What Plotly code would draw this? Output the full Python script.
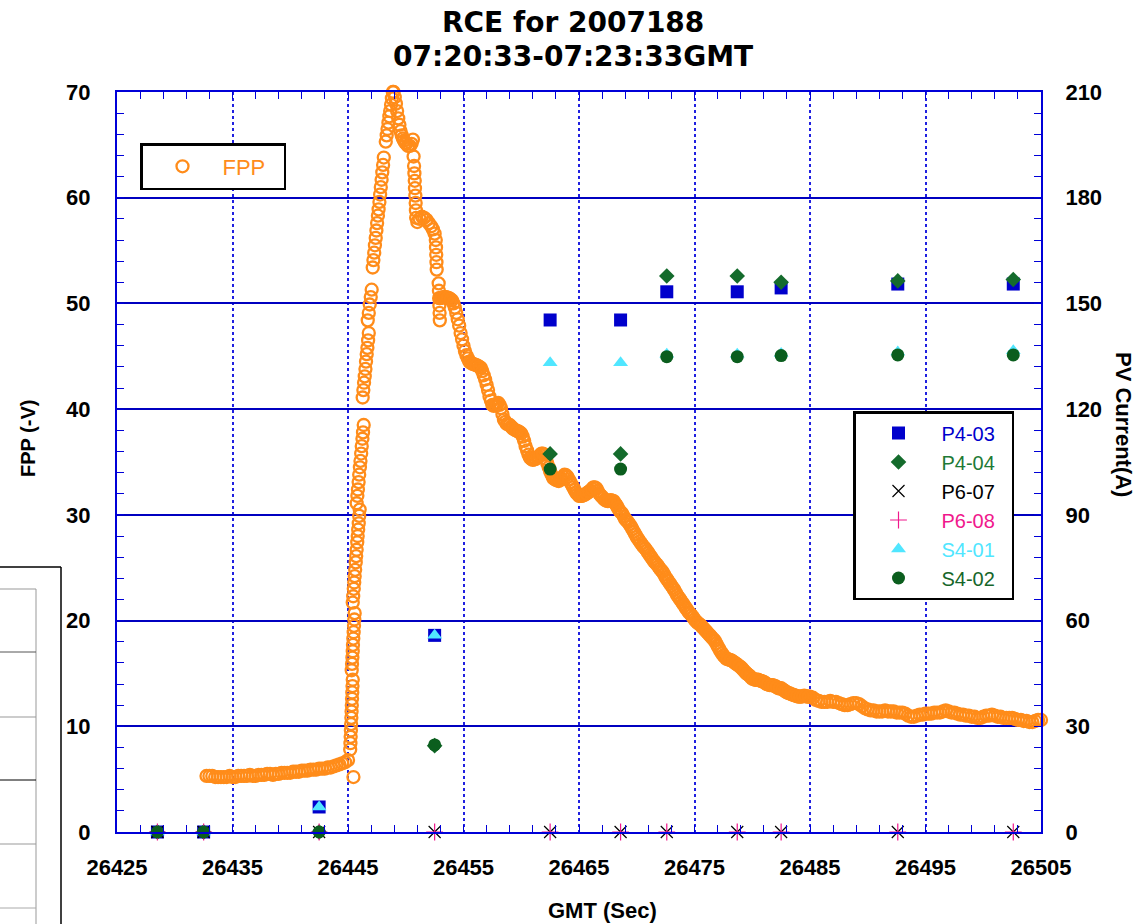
import plotly.graph_objects as go

# ---- FPP probe voltage (-V) ----
baseline_t = [26432.75, 26433.0, 26433.25, 26433.5, 26433.75, 26434.0, 26434.25, 26434.5,
              26434.75, 26435.0, 26435.25, 26435.5, 26435.75, 26436.0, 26436.25, 26436.5,
              26436.75, 26437.0, 26437.25, 26437.5, 26437.75, 26438.0, 26438.25, 26438.5,
              26438.75, 26439.0, 26439.25, 26439.5, 26439.75, 26440.0, 26440.25, 26440.5,
              26440.75, 26441.0, 26441.25, 26441.5, 26441.75, 26442.0, 26442.25, 26442.5,
              26442.75, 26443.0, 26443.25, 26443.5, 26443.75, 26444.0, 26444.25, 26444.5,
              26444.75, 26445.0, 26445.47]
baseline_v = [5.3, 5.3, 5.3, 5.2, 5.2, 5.2, 5.2, 5.2,
              5.3, 5.2, 5.2, 5.3, 5.3, 5.3, 5.3, 5.4,
              5.3, 5.3, 5.4, 5.4, 5.4, 5.5, 5.5, 5.4,
              5.5, 5.5, 5.6, 5.6, 5.6, 5.6, 5.7, 5.7,
              5.7, 5.8, 5.8, 5.8, 5.9, 5.9, 5.9, 6.0,
              6.0, 6.0, 6.1, 6.1, 6.2, 6.3, 6.4, 6.5,
              6.6, 6.8, 5.2]

rise_t = [26445.19, 26445.21, 26445.23, 26445.25, 26445.27, 26445.29, 26445.31, 26445.33,
          26445.35, 26445.37, 26445.39, 26445.41,
          26445.32, 26445.35, 26445.38, 26445.41, 26445.43, 26445.46, 26445.49, 26445.52,
          26445.55, 26445.58,
          26445.41, 26445.45, 26445.50, 26445.54, 26445.58, 26445.62, 26445.67, 26445.71,
          26445.75, 26445.80, 26445.84, 26445.88, 26445.93, 26445.97, 26446.01,
          26445.75, 26445.81, 26445.86, 26445.92, 26445.97, 26446.03, 26446.08, 26446.14,
          26446.19, 26446.25, 26446.30, 26446.36,
          26446.27, 26446.33, 26446.39, 26446.45, 26446.51, 26446.56, 26446.62, 26446.68,
          26446.74, 26446.80,
          26446.71, 26446.80, 26446.88, 26446.97, 26447.05,
          26447.14, 26447.20, 26447.27, 26447.33, 26447.40, 26447.46, 26447.52, 26447.59,
          26447.65, 26447.72, 26447.78, 26447.84, 26447.91, 26447.97, 26448.04, 26448.10,
          26448.27, 26448.35, 26448.42, 26448.50, 26448.58, 26448.65, 26448.73, 26448.80,
          26448.88]
rise_v = [7.8, 8.4, 9.0, 9.6, 10.2, 10.8, 11.4, 12.0,
          12.6, 13.2, 13.8, 14.4,
          15.3, 15.9, 16.5, 17.1, 17.7, 18.3, 18.9, 19.5,
          20.1, 20.7,
          21.7, 22.3, 23.0, 23.6, 24.2, 24.8, 25.5, 26.1,
          26.7, 27.4, 28.0, 28.6, 29.2, 29.9, 30.5,
          31.1, 31.8, 32.4, 33.1, 33.8, 34.5, 35.1, 35.8,
          36.5, 37.2, 37.8, 38.5,
          41.1, 41.8, 42.5, 43.1, 43.8, 44.5, 45.2, 45.8,
          46.5, 47.2,
          48.4, 49.1, 49.9, 50.6, 51.3,
          53.4, 54.1, 54.8, 55.5, 56.2, 56.9, 57.6, 58.3,
          58.9, 59.6, 60.3, 61.0, 61.7, 62.4, 63.1, 63.8,
          65.3, 65.9, 66.5, 67.1, 67.7, 68.2, 68.8, 69.4,
          70.0]

fall_t = [26448.95, 26449.05, 26449.15, 26449.25, 26449.35, 26449.45, 26449.55, 26449.65,
          26449.75, 26449.85, 26449.95, 26450.05, 26450.2, 26450.35, 26450.5, 26450.62,
          26450.68, 26450.72, 26450.75, 26450.78, 26450.80, 26450.83, 26450.86, 26450.88,
          26450.90,
          26451.0, 26451.2, 26451.4, 26451.6, 26451.8, 26452.0, 26452.2, 26452.35,
          26452.5,
          26452.6, 26452.62, 26452.64, 26452.66, 26452.68, 26452.85, 26452.87, 26452.89,
          26452.91, 26452.93, 26452.95]
fall_v = [70.0, 69.5, 68.9, 68.2, 67.5, 66.9, 66.3, 65.9,
          65.6, 65.4, 65.2, 65.1, 64.9, 64.9, 65.1, 65.5,
          63.9, 63.0, 62.3, 61.6, 60.9, 60.2, 59.5, 58.8,
          58.1,
          57.7, 58.0, 58.2, 58.1, 57.9, 57.6, 57.3, 57.0,
          56.6,
          56.0, 55.3, 54.6, 53.9, 53.2, 51.9, 51.2, 50.5,
          49.8, 49.1, 48.4]

decay_t = [26453.0, 26453.25, 26453.5, 26453.75, 26454.0, 26454.25, 26454.5, 26454.75,
           26455.0, 26455.25, 26455.5, 26455.75, 26456.0, 26456.25, 26456.5, 26456.75,
           26457.0, 26457.25, 26457.5, 26457.75, 26458.0, 26458.25, 26458.5, 26458.75,
           26459.0, 26459.25, 26459.5, 26459.75, 26460.0, 26460.25, 26460.5, 26460.75,
           26461.0, 26461.25, 26461.5, 26461.75, 26462.0, 26462.25, 26462.5, 26462.75,
           26463.0, 26463.25, 26463.5, 26463.75, 26464.0, 26464.25, 26464.5, 26464.75,
           26465.0, 26465.25, 26465.5, 26465.75, 26466.0, 26466.25, 26466.5, 26466.75,
           26467.0, 26467.25, 26467.5, 26467.75, 26468.0, 26468.25, 26468.5, 26468.75,
           26469.0, 26469.25, 26469.5, 26469.75, 26470.0, 26470.25, 26470.5, 26470.75,
           26471.0, 26471.25, 26471.5, 26471.75, 26472.0, 26472.25, 26472.5, 26472.75,
           26473.0, 26473.25, 26473.5, 26473.75, 26474.0, 26474.25, 26474.5, 26474.75,
           26475.0, 26475.25, 26475.5, 26475.75, 26476.0, 26476.25, 26476.5, 26476.75,
           26477.0, 26477.25, 26477.5, 26477.75, 26478.0, 26478.25, 26478.5, 26478.75,
           26479.0, 26479.25, 26479.5, 26479.75, 26480.0, 26480.25, 26480.5, 26480.75,
           26481.0, 26481.25, 26481.5, 26481.75, 26482.0, 26482.25, 26482.5, 26482.75,
           26483.0, 26483.25, 26483.5, 26483.75, 26484.0, 26484.25, 26484.5, 26484.75,
           26485.0, 26485.25, 26485.5, 26485.75, 26486.0, 26486.25, 26486.5, 26486.75,
           26487.0, 26487.25, 26487.5, 26487.75, 26488.0, 26488.25, 26488.5, 26488.75,
           26489.0, 26489.25, 26489.5, 26489.75, 26490.0, 26490.25, 26490.5, 26490.75,
           26491.0, 26491.25, 26491.5, 26491.75, 26492.0, 26492.25, 26492.5, 26492.75,
           26493.0, 26493.25, 26493.5, 26493.75, 26494.0, 26494.25, 26494.5, 26494.75,
           26495.0, 26495.25, 26495.5, 26495.75, 26496.0, 26496.25, 26496.5, 26496.75,
           26497.0, 26497.25, 26497.5, 26497.75, 26498.0, 26498.25, 26498.5, 26498.75,
           26499.0, 26499.25, 26499.5, 26499.75, 26500.0, 26500.25, 26500.5, 26500.75,
           26501.0, 26501.25, 26501.5, 26501.75, 26502.0, 26502.25, 26502.5, 26502.75,
           26503.0, 26503.25, 26503.5, 26503.75, 26504.0, 26504.25, 26504.5, 26504.75,
           26505.0]
decay_v = [50.5, 50.6, 50.6, 50.5, 50.3, 49.6, 48.5, 47.2,
           46.0, 45.1, 44.5, 44.3, 44.2, 44.1, 43.9, 43.2,
           42.3, 41.2, 40.4, 40.4, 40.6, 40.1, 39.0, 38.6,
           38.5, 38.2, 38.0, 37.9, 37.7, 37.0, 36.1, 35.4,
           35.2, 35.3, 35.5, 35.8, 35.7, 34.9, 34.1, 33.5,
           33.3, 33.2, 33.4, 33.8, 33.6, 33.1, 32.6, 32.1,
           31.8, 31.8, 31.9, 32.1, 32.3, 32.6, 32.5, 32.0,
           31.7, 31.4, 31.3, 31.4, 31.3, 30.9, 30.4, 30.1,
           29.6, 29.3, 28.9, 28.4, 27.9, 27.5, 27.1, 26.8,
           26.4, 26.0, 25.6, 25.3, 24.9, 24.6, 24.1, 23.7,
           23.3, 22.9, 22.4, 22.0, 21.6, 21.2, 20.8, 20.5,
           20.1, 19.8, 19.6, 19.3, 19.0, 18.7, 18.4, 18.1,
           17.6, 17.1, 16.7, 16.4, 16.3, 16.2, 16.0, 15.8,
           15.6, 15.3, 15.0, 14.8, 14.5, 14.4, 14.4, 14.3,
           14.2, 14.0, 13.9, 13.9, 13.8, 13.6, 13.6, 13.4,
           13.2, 13.1, 13.0, 12.9, 12.8, 12.8, 12.9, 12.8,
           12.8, 12.7, 12.5, 12.4, 12.3, 12.3, 12.3, 12.4,
           12.3, 12.3, 12.2, 12.1, 12.0, 12.0, 12.1, 12.2,
           12.2, 12.1, 11.9, 11.7, 11.6, 11.5, 11.5, 11.4,
           11.4, 11.4, 11.5, 11.4, 11.4, 11.4, 11.3, 11.3,
           11.3, 11.2, 11.0, 10.9, 10.9, 11.0, 11.1, 11.1,
           11.2, 11.2, 11.2, 11.3, 11.3, 11.3, 11.4, 11.5,
           11.4, 11.3, 11.3, 11.2, 11.1, 11.1, 11.0, 11.0,
           10.9, 10.9, 10.8, 10.8, 10.9, 11.0, 11.0, 11.1,
           11.0, 10.9, 10.9, 10.8, 10.8, 10.8, 10.8, 10.7,
           10.6, 10.6, 10.5, 10.5, 10.4, 10.4, 10.5, 10.6,
           10.6]

# the steep, wiggly stretch is sampled more densely (readings between the above)
dense_t = [26453.125, 26453.375, 26453.625, 26453.875, 26454.125, 26454.375, 26454.625, 26454.875,
           26455.125, 26455.375, 26455.625, 26455.875, 26456.125, 26456.375, 26456.625, 26456.875,
           26457.125, 26457.375, 26457.625, 26457.875, 26458.125, 26458.375, 26458.625, 26458.875,
           26459.125, 26459.375, 26459.625, 26459.875, 26460.125, 26460.375, 26460.625, 26460.875,
           26461.125, 26461.375, 26461.625, 26461.875, 26462.125, 26462.375, 26462.625, 26462.875,
           26463.125, 26463.375, 26463.625, 26463.875, 26464.125, 26464.375, 26464.625, 26464.875,
           26465.125, 26465.375, 26465.625, 26465.875, 26466.125, 26466.375, 26466.625, 26466.875,
           26467.125, 26467.375, 26467.625, 26467.875, 26468.125, 26468.375, 26468.625, 26468.875,
           26469.125, 26469.375, 26469.625, 26469.875, 26470.125, 26470.375, 26470.625, 26470.875,
           26471.125, 26471.375, 26471.625, 26471.875, 26472.125, 26472.375, 26472.625, 26472.875,
           26473.125, 26473.375, 26473.625, 26473.875, 26474.125, 26474.375, 26474.625, 26474.875,
           26475.125, 26475.375, 26475.625, 26475.875, 26476.125, 26476.375, 26476.625, 26476.875,
           26477.125, 26477.375, 26477.625, 26477.875, 26478.125, 26478.375, 26478.625, 26478.875,
           26479.125, 26479.375, 26479.625, 26479.875, 26480.125, 26480.375, 26480.625, 26480.875,
           26481.125, 26481.375, 26481.625, 26481.875, 26482.125, 26482.375, 26482.625, 26482.875,
           26483.125, 26483.375, 26483.625, 26483.875, 26484.125, 26484.375, 26484.625, 26484.875]
dense_v = [50.55, 50.6, 50.55, 50.4, 50.0, 49.1, 47.9, 46.6,
           45.5, 44.8, 44.4, 44.25, 44.15, 44.0, 43.6, 42.8,
           41.8, 40.8, 40.3, 40.5, 40.4, 39.5, 38.8, 38.55,
           38.35, 38.1, 37.95, 37.8, 37.4, 36.5, 35.7, 35.3,
           35.25, 35.4, 35.65, 35.8, 35.3, 34.5, 33.8, 33.4,
           33.25, 33.3, 33.6, 33.75, 33.35, 32.85, 32.35, 31.95,
           31.8, 31.85, 32.0, 32.2, 32.45, 32.6, 32.25, 31.85,
           31.55, 31.35, 31.35, 31.35, 31.1, 30.65, 30.25, 29.85,
           29.45, 29.1, 28.65, 28.15, 27.7, 27.3, 26.95, 26.6,
           26.2, 25.8, 25.45, 25.1, 24.75, 24.35, 23.9, 23.5,
           23.1, 22.65, 22.2, 21.8, 21.4, 21.0, 20.65, 20.3,
           19.95, 19.7, 19.45, 19.15, 18.85, 18.55, 18.25, 17.85,
           17.35, 16.9, 16.55, 16.35, 16.25, 16.1, 15.9, 15.7,
           15.45, 15.15, 14.9, 14.65, 14.45, 14.4, 14.35, 14.25,
           14.1, 13.95, 13.9, 13.85, 13.7, 13.6, 13.5, 13.3,
           13.15, 13.05, 12.95, 12.85, 12.8, 12.85, 12.85, 12.8]

fpp_time = baseline_t + rise_t + fall_t + decay_t + dense_t
fpp_volts = baseline_v + rise_v + fall_v + decay_v + dense_v

# ---- PV currents (A), right axis ----
current_time = [26428.5, 26432.5, 26442.5, 26452.5, 26462.5, 26468.6,
                26472.6, 26478.7, 26482.5, 26492.6, 26502.6]
p4_03 = [0, 0, 7.1, 55.8, 145.3, 145.3, 153.3, 153.3, 154.4, 155.5, 155.5]
p4_04 = [0, 0, 0, 24.5, 107.3, 107.3, 157.8, 157.8, 156.0, 156.4, 156.8]
p6_07 = [0, 0, 0, 0, 0, 0, 0, 0, 0, 0, 0]
p6_08 = [0, 0, 0, 0, 0, 0, 0, 0, 0, 0, 0]
s4_01 = [0, 0, 7.1, 55.8, 133.2, 133.2, 135.6, 135.6, 135.8, 136.2, 136.6]
s4_02 = [0, 0, 0, 24.7, 103.0, 103.0, 134.9, 134.9, 135.2, 135.4, 135.4]

x_ticks = [26425, 26435, 26445, 26455, 26465, 26475, 26485, 26495, 26505]

BLUE = "#0000D8"
ORANGE = "#FF8C1A"
NBSP = "\u00a0"


def px_x(px):
    # pixel column -> paper x (plot area spans 117..1041)
    return (px - 117) / 924


def px_y(py):
    # pixel row -> paper y (plot area spans 832..92)
    return (832 - py) / 740


def colored(text, color, pad=0):
    # trailing spaces widen the legend box to the original's size
    return f'<span style="color:{color}">{text}{NBSP * pad}</span>'


fig = go.Figure()

fig.add_trace(go.Scatter(
    x=fpp_time, y=fpp_volts, mode='markers', name=colored('FPP', ORANGE, pad=2),
    marker=dict(symbol='circle-open', size=12, color=ORANGE, line=dict(width=2.3)),
    cliponaxis=False, legend='legend'))

current_series = [
    ('P4-03', p4_03, dict(symbol='square', size=13, color='#0000CC'), '#0000CC'),
    ('P4-04', p4_04, dict(symbol='diamond', size=12, color='#146B2C'), '#1E7A36'),
    ('P6-07', p6_07, dict(symbol='x-thin', size=12, color='black',
                          line=dict(width=1.2, color='black')), 'black'),
    ('P6-08', p6_08, dict(symbol='cross-thin', size=12, color='#F0188C',
                          line=dict(width=1.2, color='#F0188C')), '#F0188C'),
    ('S4-01', s4_01, dict(symbol='triangle-up', size=13, color='#50E6FF'), '#50E6FF'),
    ('S4-02', s4_02, dict(symbol='circle', size=13, color='#0B5E1E'), '#16662A'),
]
for name, values, marker, text_color in current_series:
    fig.add_trace(go.Scatter(
        x=current_time, y=values, mode='markers', name=colored(name, text_color, pad=2),
        marker=marker, yaxis='y2', cliponaxis=False, legend='legend2'))

tick_font = dict(family='Arial', size=22, color='black', weight='bold')
title_font = dict(family='DejaVu Sans', size=28, color='black', weight='bold')

fig.update_layout(
    width=1138, height=924,
    margin=dict(l=117, r=97, t=92, b=92),
    plot_bgcolor='white', paper_bgcolor='white',
    font=dict(family='Arial', color='black'),
    showlegend=True,
    xaxis=dict(
        range=[26425, 26505], tickvals=x_ticks, tickformat='d',
        showgrid=True, gridcolor='#2020E0', griddash='dot', gridwidth=1.6,
        ticks='inside', ticklen=7, tickcolor=BLUE, tickwidth=1.3,
        minor=dict(dtick=2, tick0=26425, ticks='inside', ticklen=7,
                   tickcolor=BLUE, tickwidth=1.3, showgrid=False),
        showline=True, linecolor=BLUE, linewidth=2, mirror='ticks',
        tickfont=tick_font, ticklabelstandoff=15, zeroline=False),
    yaxis=dict(
        range=[0, 70], dtick=10, tick0=0,
        showgrid=True, gridcolor='#0000C0', gridwidth=1.5,
        ticks='inside', ticklen=7, tickcolor=BLUE, tickwidth=1.3,
        minor=dict(dtick=2, ticks='inside', ticklen=7, tickcolor=BLUE,
                   tickwidth=1.3, showgrid=False),
        showline=True, linecolor=BLUE, linewidth=2,
        tickfont=tick_font, ticklabelstandoff=20, zeroline=False),
    yaxis2=dict(
        range=[0, 210], dtick=30, tick0=0, overlaying='y', side='right',
        showgrid=False, ticks='inside', ticklen=7, tickcolor=BLUE, tickwidth=1.3,
        minor=dict(dtick=6, ticks='inside', ticklen=7, tickcolor=BLUE,
                   tickwidth=1.3, showgrid=False),
        showline=True, linecolor=BLUE, linewidth=2,
        tickfont=tick_font, ticklabelstandoff=18, zeroline=False),
    legend=dict(
        x=px_x(140), y=px_y(143), xanchor='left', yanchor='top',
        bgcolor='white', bordercolor='black', borderwidth=2.5,
        font=dict(family='Arial', size=22), itemwidth=70),
    legend2=dict(
        x=px_x(853), y=px_y(411), xanchor='left', yanchor='top',
        bgcolor='white', bordercolor='black', borderwidth=2.5,
        font=dict(family='Arial', size=20), itemwidth=76, tracegroupgap=0),
)

annotations = [
    dict(text='RCE for 2007188', x=px_x(573), y=px_y(22), font=title_font),
    dict(text='07:20:33-07:23:33GMT', x=px_x(573), y=px_y(56), font=title_font),
    dict(text='FPP (-V)', x=px_x(28), y=px_y(439), textangle=-90,
         font=dict(family='Arial', size=20, color='black', weight='bold')),
    dict(text='PV Current(A)', x=px_x(1124), y=px_y(424), textangle=90,
         font=dict(family='Arial', size=22, color='black', weight='bold')),
    dict(text='GMT (Sec)', x=px_x(602), y=px_y(910),
         font=dict(family='Arial', size=22, color='black', weight='bold')),
]
for a in annotations:
    fig.add_annotation(xref='paper', yref='paper', xanchor='center', yanchor='middle',
                       showarrow=False, **a)

# partial table frame peeking in at the lower-left corner
frame_lines = [
    (0, 567, 61, 567, 'black', 1.5),
    (61, 567, 61, 930, 'black', 1.5),
    (0, 589, 36, 589, '#999999', 1),
    (36, 589, 36, 930, '#999999', 1),
    (0, 652, 36, 652, '#555555', 1),
    (0, 717, 36, 717, '#999999', 1),
    (0, 780, 36, 780, 'black', 1),
    (0, 844, 36, 844, '#999999', 1),
    (0, 908, 36, 908, '#aaaaaa', 1),
]
for x0, y0, x1, y1, color, width in frame_lines:
    fig.add_shape(type='line', xref='paper', yref='paper',
                  x0=px_x(x0), y0=px_y(y0), x1=px_x(x1), y1=px_y(y1),
                  line=dict(color=color, width=width))

fig.write_html("out.html", config={'displayModeBar': False},
               post_script="document.body.style.margin='0';")
